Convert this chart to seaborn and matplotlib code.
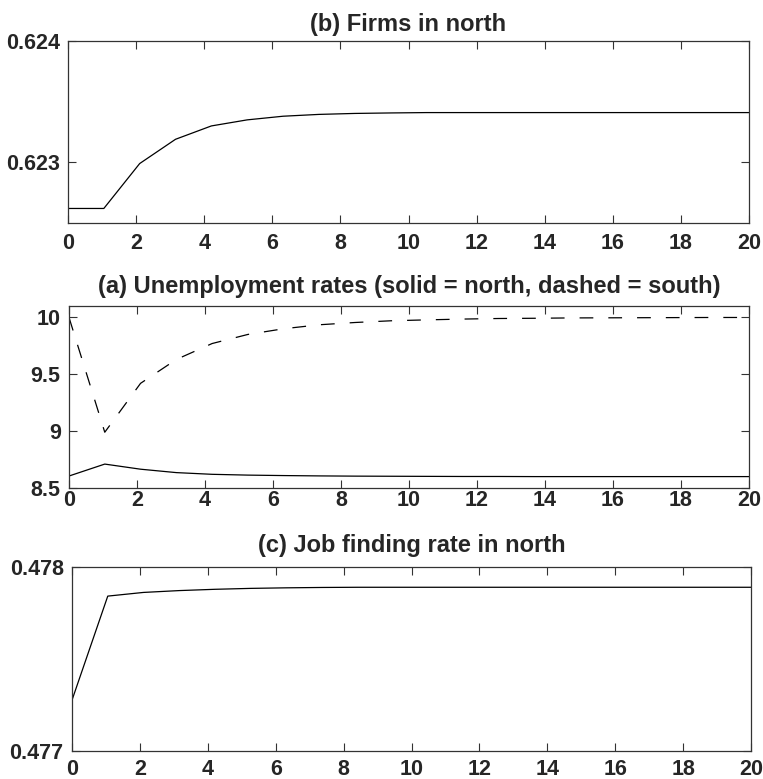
import numpy as np
import pandas as pd
import matplotlib
matplotlib.use("Agg")
import matplotlib.pyplot as plt
import seaborn as sns

# periods (20 points spread over 0..20)
periods = np.linspace(0, 20, 20)

firms_north = [0.62262, 0.62262, 0.62299, 0.62319, 0.62330, 0.62335, 0.62338,
               0.623395, 0.623403, 0.623407, 0.62341, 0.62341, 0.62341, 0.62341,
               0.62341, 0.62341, 0.62341, 0.62341, 0.62341, 0.62341]

unemp_south = [10.0, 8.99, 9.42, 9.63, 9.77, 9.85, 9.90, 9.935, 9.955, 9.97,
               9.978, 9.985, 9.99, 9.992, 9.995, 9.996, 9.997, 9.998, 9.999, 9.999]
unemp_north = [8.605, 8.71, 8.665, 8.635, 8.62, 8.613, 8.609, 8.606, 8.604, 8.603,
               8.602, 8.601, 8.601, 8.600, 8.600, 8.600, 8.600, 8.600, 8.600, 8.600]

job_finding_north = [0.477277, 0.477842, 0.477862, 0.477872, 0.477879, 0.477884,
                     0.477887, 0.477889, 0.47789, 0.47789, 0.47789, 0.47789,
                     0.47789, 0.47789, 0.47789, 0.47789, 0.47789, 0.47789,
                     0.47789, 0.47789]

x_ticks = list(range(0, 21, 2))

df_b = pd.DataFrame({"t": periods, "v": firms_north})
df_a = pd.DataFrame({"t": np.concatenate([periods, periods]),
                     "v": unemp_north + unemp_south,
                     "region": ["north"] * 20 + ["south"] * 20})
df_c = pd.DataFrame({"t": periods, "v": job_finding_north})

sns.set_style("ticks")
plt.rcParams['font.family'] = ['Liberation Sans', 'DejaVu Sans']
plt.rcParams['font.weight'] = 'bold'
plt.rcParams['axes.titleweight'] = 'bold'

edge = '#333333'
fs = 15.5
title_fs = 17

fig = plt.figure(figsize=(7.63, 7.79), dpi=100)
ax_b = fig.add_axes([0.0891, 0.7137, 0.8926, 0.2337])
ax_a = fig.add_axes([0.0904, 0.3736, 0.8913, 0.2336])
ax_c = fig.add_axes([0.0944, 0.0359, 0.8899, 0.2362])

sns.lineplot(data=df_b, x="t", y="v", ax=ax_b, color='black', lw=0.9)
sns.lineplot(data=df_a, x="t", y="v", style="region", ax=ax_a, color='black', lw=0.9,
             dashes={"north": "", "south": (11, 12)}, legend=False)
sns.lineplot(data=df_c, x="t", y="v", ax=ax_c, color='black', lw=0.9)

ax_b.set_ylim(0.6225, 0.624)
ax_b.set_yticks([0.623, 0.624], ["0.623", "0.624"])
ax_a.set_ylim(8.5, 10.1)
ax_a.set_yticks([8.5, 9, 9.5, 10], ["8.5", "9", "9.5", "10"])
ax_c.set_ylim(0.477, 0.478)
ax_c.set_yticks([0.477, 0.478], ["0.477", "0.478"])

titles = {ax_b: ("(b) Firms in north", 7, 7),
          ax_a: ("(a) Unemployment rates (solid = north, dashed = south)", 9.5, 1.5),
          ax_c: ("(c) Job finding rate in north", 11, 6)}

for ax, (title, tpad, xpad) in titles.items():
    ax.set_xlim(0, 20)
    ax.set_xticks(x_ticks, [str(t) for t in x_ticks])
    ax.set_xlabel("")
    ax.set_ylabel("")
    ax.set_title(title, fontsize=title_fs, fontweight='bold', pad=tpad)
    for s in ax.spines.values():
        s.set_visible(True)
        s.set_color(edge)
        s.set_linewidth(0.9)
    ax.tick_params(direction='in', length=6, width=0.8, color=edge,
                   top=True, right=True, labelsize=fs)
    ax.tick_params(axis='x', pad=xpad)
    ax.tick_params(axis='y', pad=6)
    for lab in ax.get_xticklabels() + ax.get_yticklabels():
        lab.set_fontweight('bold')

plt.savefig("out.png", dpi=100)
plt.close()
